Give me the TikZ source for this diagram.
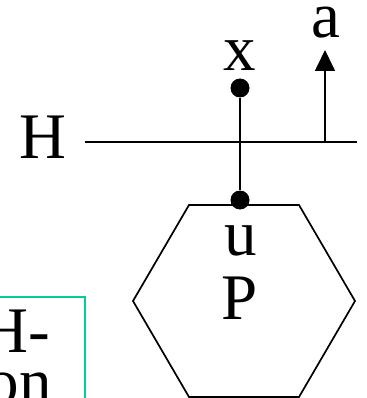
\documentclass[tikz,border=0pt]{standalone}
\usepackage{fontspec}
\setmainfont{Liberation Serif}
\usetikzlibrary{arrows.meta}
\definecolor{boxteal}{RGB}{0,204,160}
\begin{document}
\begin{tikzpicture}[x=1pt,y=-1pt,
  lbl/.style={inner sep=0pt,font=\fontsize{65}{70}\selectfont,anchor=base},
  dotn/.style={circle,fill=black,inner sep=0pt,minimum size=19pt},
  ln/.style={line width=1.7pt}]
\useasboundingbox (0,0) rectangle (366,398);
\clip (0,0) rectangle (366,398);
% box at bottom left
\draw[boxteal,line width=1.3pt] (-20,297) -- (85,297) -- (85,420);
\node[lbl,anchor=base east] (t1) at (50,352) {H-};
\node[lbl,anchor=base east] (t2) at (52,403) {on};
% hexagon
\draw[ln] (189,205) -- (299,205) -- (355,301) -- (299,397) -- (189,397) -- (133,301) -- cycle;
\node[lbl] (u) at (241,255) {u};
\node[lbl] (P) at (240,319) {P};
% H line
\node[lbl] (H) at (43,158) {H};
\coordinate (hl) at (85,142);
\coordinate (hr) at (357,142);
\draw[ln] (hl) -- (hr);
% dots and wire
\node[dotn] (xd) at (240,88) {};
\node[dotn] (ud) at (240,200) {};
\draw[ln] (xd) -- (ud);
\node[lbl] (x) at (240,71) {x};
% arrow a
\coordinate (ab) at (325,142);
\coordinate (at) at (325,50);
\draw[ln,-{Triangle[length=21pt,width=20pt]}] (ab) -- (at);
\node[lbl] (a) at (326,38) {a};
\end{tikzpicture}
\end{document}
